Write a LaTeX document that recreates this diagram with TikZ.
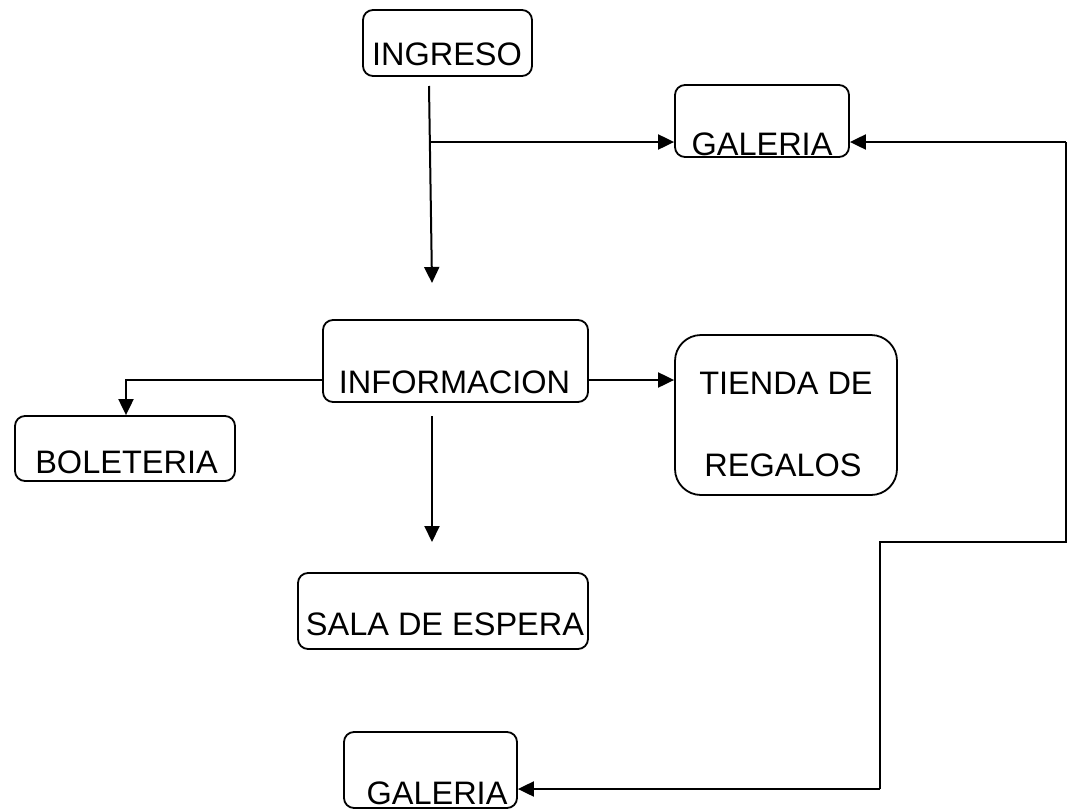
\documentclass[tikz,border=0pt]{standalone}
\usepackage{fontspec}
\setmainfont{Liberation Sans}
\usetikzlibrary{arrows.meta}
\begin{document}
\begin{tikzpicture}[x=1pt,y=-1pt,
  box/.style={draw,line width=1.8pt,rounded corners=10pt,inner sep=0pt},
  lbl/.style={anchor=base,inner sep=0pt,font=\fontsize{32.5}{38}\selectfont},
  conn/.style={line width=2pt},
  arr/.style={conn,-{Triangle[length=16pt,width=15pt]}}]
\useasboundingbox (0,0) rectangle (1074,809);
% boxes
\node[box,minimum width=169pt,minimum height=66pt] (ingreso) at (447.5,43) {};
\node[box,minimum width=174pt,minimum height=72pt] (gal1) at (762,121) {};
\node[box,minimum width=265pt,minimum height=82pt] (info) at (455.5,361) {};
\node[box,rounded corners=26pt,minimum width=222pt,minimum height=160pt] (tienda) at (786,415) {};
\node[box,minimum width=220pt,minimum height=65pt] (bolet) at (125,448.5) {};
\node[box,minimum width=290pt,minimum height=76pt] (sala) at (443,611) {};
\node[box,minimum width=173pt,minimum height=76pt] (gal2) at (430.5,770) {};
% labels
\node[lbl] (ingresoL) at (447,65) {INGRESO};
\node[lbl] (gal1L) at (762,155) {GALERIA};
\node[lbl] (infoL) at (454.5,393) {INFORMACION};
\node[lbl] (tiendaL1) at (786,394) {TIENDA DE};
\node[lbl] (tiendaL2) at (783,476) {REGALOS};
\node[lbl] (boletL) at (126.5,473) {BOLETERIA};
\node[lbl] (salaL) at (445,635) {SALA DE ESPERA};
\node[lbl] (gal2L) at (437,804) {GALERIA};
% free-end coordinates
\coordinate (s1) at (429,86);
\coordinate (t1) at (432,283);
\coordinate (b1) at (430,142);
\coordinate (s2) at (432,416);
\coordinate (t2) at (432,542);
\coordinate (r1) at (1066,142);
\coordinate (r2) at (1066,542);
\coordinate (r3) at (880,542);
\coordinate (r4) at (880,789);
\coordinate (l1) at (126,380);
% connectors
\draw[arr] (s1) -- (t1);
\draw[arr] (b1) -- (gal1.west |- b1);
\draw[arr] (r1) -- (gal1.east |- r1);
\draw[conn] (r1) -- (r2) -- (r3) -- (r4);
\draw[arr] (r4) -- (gal2.east |- r4);
\draw[arr] (info.west |- l1) -- (l1) -- (bolet.north -| l1);
\draw[arr] (info.east |- 0,380) -- (tienda.west |- 0,380);
\draw[arr] (s2) -- (t2);
\end{tikzpicture}
\end{document}
